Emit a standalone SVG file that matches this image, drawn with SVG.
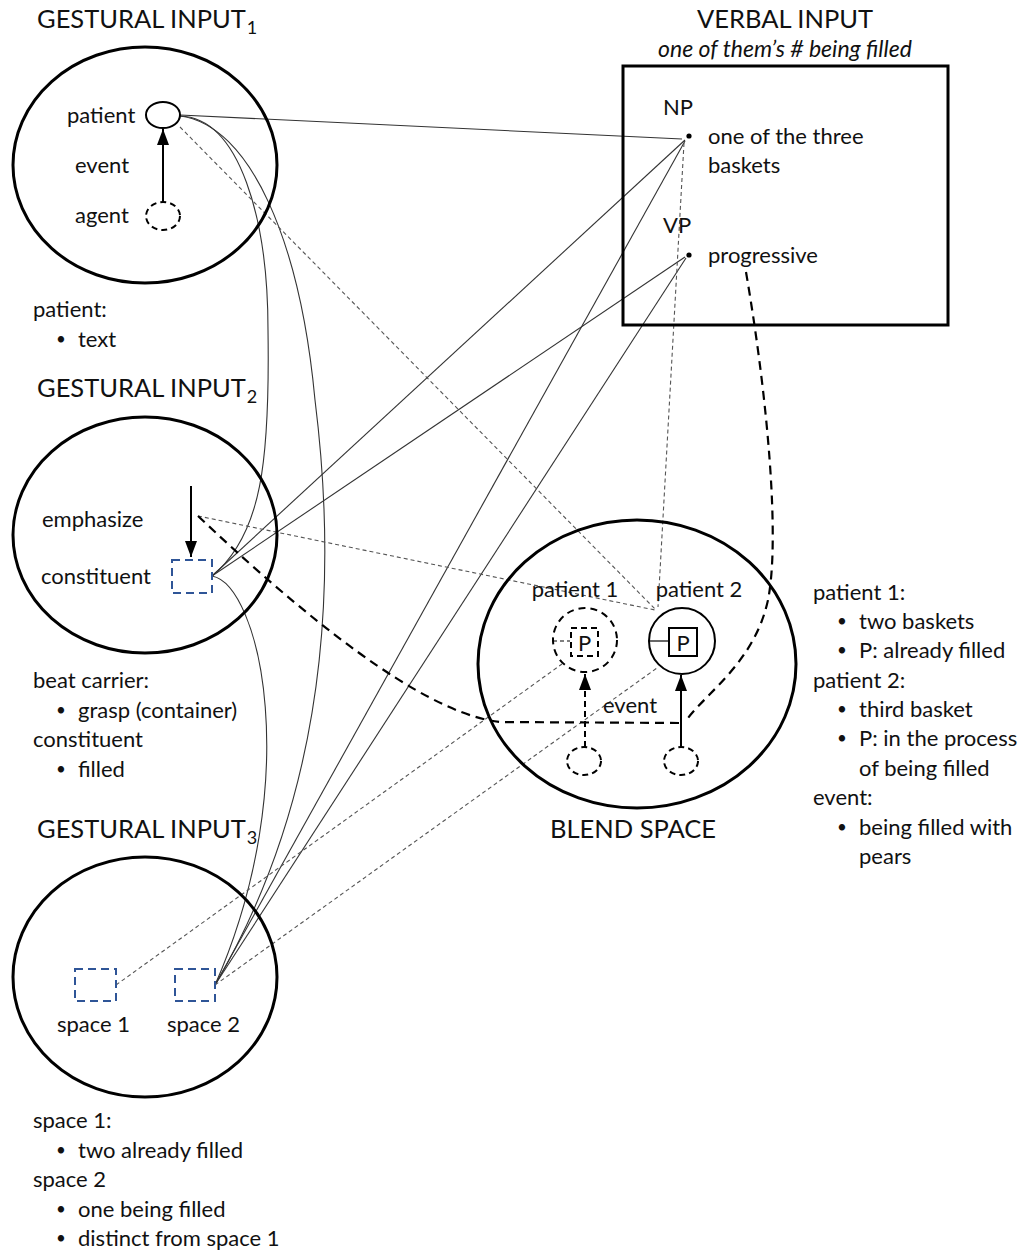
<svg xmlns="http://www.w3.org/2000/svg" width="1031" height="1251" viewBox="0 0 1031 1251">
<defs>
<style>
.t{font-family:Lato,"Open Sans","Liberation Sans",sans-serif;font-size:22px;fill:#111}
.h{font-size:25.5px}
.sub{font-size:18px}
.it{font-style:italic;font-size:23px}
.b{font-size:17px}
.space{fill:none;stroke:#000;stroke-width:3}
.ln{fill:none;stroke:#333;stroke-width:1.1}
.dl{fill:none;stroke:#555;stroke-width:1.1;stroke-dasharray:4 3}
.dk{fill:none;stroke:#000;stroke-width:2.2;stroke-dasharray:9 6}
.blue{fill:none;stroke:#2F5597;stroke-width:2;stroke-dasharray:8 5}
.role{fill:#fff;stroke:#000;stroke-width:2}
.droll{fill:#fff;stroke:#000;stroke-width:2;stroke-dasharray:6 4}
.arr{fill:none;stroke:#000;stroke-width:2;marker-end:url(#head)}
.darr{fill:none;stroke:#000;stroke-width:2;stroke-dasharray:6 4;marker-end:url(#head)}
</style>
<marker id="head" viewBox="0 0 16 12" refX="16" refY="6" markerWidth="16" markerHeight="12" markerUnits="userSpaceOnUse" orient="auto">
<path d="M0,0 L16,6 L0,12 z" fill="#000"/>
</marker>
</defs>
<rect width="1031" height="1251" fill="#fff"/>

<!-- mappings between the spaces -->
<g id="connectors">
<path class="ln" d="M180,115 L682,139"/>
<path class="ln" d="M180,116 C240,118 268,220 268,330 C270,460 262,535 212,576"/>
<path class="ln" d="M180,116 C250,125 300,240 315,400 C335,560 335,780 215,985"/>
<path class="ln" d="M685,140 L212,576"/>
<path class="ln" d="M685,257 L212,576"/>
<path class="ln" d="M685,141 L215,985"/>
<path class="ln" d="M686,258 L215,985"/>
<path class="ln" d="M212,576 C260,585 305,780 215,985"/>
<path class="dl" d="M180,127 L655,609"/>
<path class="dl" d="M684,143 L658,607"/>
<path class="dl" d="M198,516 L655,610"/>
<path class="dl" d="M116,985 L562,664"/>
<path class="dl" d="M215,985 L657,668"/>
<path class="dk" d="M198,516 Q405,712 500,722 L681,723"/>
<path class="dk" d="M746,272 C768,400 780,540 768,600 C755,660 710,690 688,718"/>
</g>

<!-- gestural input 1 -->
<g id="gestural-input-1">
<text class="t h" x="37" y="28">GESTURAL INPUT<tspan class="sub" dx="1" dy="6">1</tspan></text>
<ellipse class="space" cx="145" cy="165" rx="132" ry="118"/>
<text class="t" x="67" y="123">patient</text>
<text class="t" x="75" y="173">event</text>
<text class="t" x="75" y="223">agent</text>
<ellipse class="role" cx="163" cy="115" rx="17" ry="13"/>
<ellipse class="droll" cx="163" cy="216" rx="17" ry="14"/>
<path class="arr" d="M163,202 L163,129"/>
<text class="t" x="33" y="317">patient:</text>
<text class="t b" x="56" y="345">•</text>
<text class="t" x="78" y="347">text</text>
</g>

<!-- gestural input 2 -->
<g id="gestural-input-2">
<text class="t h" x="37" y="397">GESTURAL INPUT<tspan class="sub" dx="1" dy="6">2</tspan></text>
<ellipse class="space" cx="145" cy="535" rx="132" ry="118"/>
<text class="t" x="42" y="527">emphasize</text>
<text class="t" x="41" y="584">constituent</text>
<path class="arr" d="M191,486 L191,557"/>
<rect class="blue" x="172" y="560" width="40" height="33"/>
<text class="t" x="33" y="688">beat carrier:</text>
<text class="t b" x="56" y="716">•</text>
<text class="t" x="78" y="718">grasp (container)</text>
<text class="t" x="33" y="747">constituent</text>
<text class="t b" x="56" y="775">•</text>
<text class="t" x="78" y="777">filled</text>
</g>

<!-- gestural input 3 -->
<g id="gestural-input-3">
<text class="t h" x="37" y="838">GESTURAL INPUT<tspan class="sub" dx="1" dy="6">3</tspan></text>
<ellipse class="space" cx="145" cy="977" rx="132" ry="120"/>
<rect class="blue" x="75" y="969" width="41" height="32"/>
<rect class="blue" x="175" y="969" width="40" height="32"/>
<text class="t" x="57" y="1032">space 1</text>
<text class="t" x="167" y="1032">space 2</text>
<text class="t" x="33" y="1128">space 1:</text>
<text class="t b" x="56" y="1156">•</text>
<text class="t" x="78" y="1158">two already filled</text>
<text class="t" x="33" y="1187">space 2</text>
<text class="t b" x="56" y="1215">•</text>
<text class="t" x="78" y="1217">one being filled</text>
<text class="t b" x="56" y="1244">•</text>
<text class="t" x="78" y="1246">distinct from space 1</text>
</g>

<!-- verbal input -->
<g id="verbal-input">
<text class="t h" x="785" y="28" text-anchor="middle">VERBAL INPUT</text>
<text class="t it" x="785" y="57" text-anchor="middle">one of them’s # being filled</text>
<rect x="623" y="66" width="325" height="259" fill="none" stroke="#000" stroke-width="3"/>
<text class="t" x="663" y="115">NP</text>
<circle cx="689" cy="136" r="2.6" fill="#000"/>
<text class="t" x="708" y="144">one of the three</text>
<text class="t" x="708" y="173">baskets</text>
<text class="t" x="663" y="233">VP</text>
<circle cx="689" cy="255" r="2.6" fill="#000"/>
<text class="t" x="708" y="263">progressive</text>
</g>

<!-- blend space -->
<g id="blend-space">
<ellipse class="space" cx="637" cy="664" rx="159" ry="144"/>
<text class="t" x="575" y="597" text-anchor="middle">patient 1</text>
<text class="t" x="699" y="597" text-anchor="middle">patient 2</text>
<circle cx="585" cy="640" r="32" fill="none" stroke="#000" stroke-width="2" stroke-dasharray="7 5"/>
<path d="M553,641 L570,641" stroke="#000" stroke-width="1.2" stroke-dasharray="4 3"/>
<rect x="571" y="628" width="27" height="28" fill="none" stroke="#000" stroke-width="2" stroke-dasharray="6 4"/>
<text class="t" x="584.5" y="651" text-anchor="middle">P</text>
<circle cx="682" cy="641" r="33" fill="none" stroke="#000" stroke-width="2"/>
<path d="M649,641 L669,641" stroke="#000" stroke-width="1.2"/>
<rect x="669" y="628" width="28" height="28" fill="none" stroke="#000" stroke-width="2"/>
<text class="t" x="683" y="651" text-anchor="middle">P</text>
<path class="darr" d="M585,747 L585,674"/>
<path class="arr" d="M681,747 L681,675"/>
<ellipse class="droll" cx="584" cy="761" rx="17" ry="14"/>
<ellipse class="droll" cx="681" cy="761" rx="17" ry="14"/>
<text class="t" x="603" y="713">event</text>
<text class="t h" x="633" y="838" text-anchor="middle">BLEND SPACE</text>
</g>

<!-- blend space notes -->
<g id="blend-notes">
<text class="t" x="813" y="600">patient 1:</text>
<text class="t b" x="837" y="627">•</text>
<text class="t" x="859" y="629">two baskets</text>
<text class="t b" x="837" y="656">•</text>
<text class="t" x="859" y="658">P: already filled</text>
<text class="t" x="813" y="688">patient 2:</text>
<text class="t b" x="837" y="715">•</text>
<text class="t" x="859" y="717">third basket</text>
<text class="t b" x="837" y="744">•</text>
<text class="t" x="859" y="746">P: in the process</text>
<text class="t" x="859" y="776">of being filled</text>
<text class="t" x="813" y="805">event:</text>
<text class="t b" x="837" y="833">•</text>
<text class="t" x="859" y="835">being filled with</text>
<text class="t" x="859" y="864">pears</text>
</g>
</svg>
